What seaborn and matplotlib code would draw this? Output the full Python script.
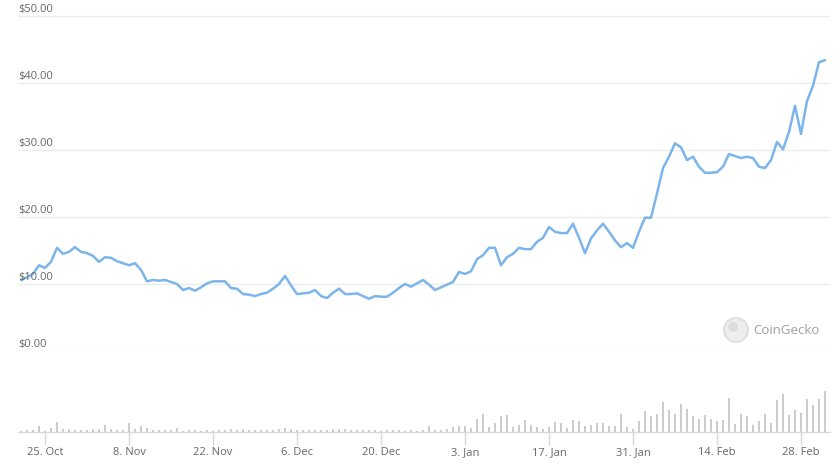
import pandas as pd
import matplotlib
matplotlib.use('Agg')
import matplotlib.pyplot as plt
import seaborn as sns

# daily prices (USD), 21 Oct 2020 -> 4 Mar 2021
start_date = '2020-10-21'
end_date = '2021-03-04'
price = [
    10.6, 11.0, 11.5, 12.8, 12.4, 13.3, 15.4, 14.5, 14.8, 15.5,
    14.8, 14.6, 14.2, 13.3, 14.0, 13.9, 13.4, 13.1, 12.8, 13.1,
    12.1, 10.4, 10.6, 10.5, 10.6, 10.3, 10.0, 9.1, 9.4, 9.0,
    9.5, 10.1, 10.4, 10.4, 10.4, 9.4, 9.3, 8.5, 8.4, 8.2,
    8.5, 8.7, 9.3, 10.0, 11.2, 9.8, 8.5, 8.6, 8.7, 9.1,
    8.2, 7.9, 8.7, 9.3, 8.5, 8.5, 8.6, 8.2, 7.8, 8.2,
    8.1, 8.1, 8.7, 9.4, 10.0, 9.6, 10.1, 10.6, 9.9, 9.1,
    9.5, 9.9, 10.3, 11.8, 11.5, 11.9, 13.7, 14.3, 15.4, 15.4,
    12.8, 14.0, 14.5, 15.4, 15.2, 15.2, 16.3, 16.9, 18.5, 17.8,
    17.6, 17.6, 19.0, 16.9, 14.6, 16.8, 18.0, 19.0, 17.8, 16.5,
    15.5, 16.1, 15.4, 17.8, 19.9, 19.9, 23.5, 27.3, 29.0, 31.0,
    30.4, 28.5, 29.0, 27.5, 26.6, 26.6, 26.7, 27.5, 29.4, 29.1,
    28.8, 29.0, 28.8, 27.5, 27.3, 28.5, 31.2, 30.1, 32.7, 36.6,
    32.4, 37.3, 39.6, 43.1, 43.4,
]

# daily volume (arbitrary units)
volume = [
    1.5, 2, 2.5, 6, 1.5, 4, 10.5, 3.5, 3, 2,
    2, 2, 3, 3.5, 7, 3, 2, 2.5, 9, 3.5,
    6, 4.5, 2.5, 2, 2, 2, 4, 1.5, 2, 2,
    1.5, 2, 1.5, 2, 2.5, 3, 2, 3.5, 2, 2,
    2.5, 2, 2.5, 3, 4, 3, 2, 2.5, 2, 2,
    2.5, 2, 3, 3.5, 3, 2.5, 2.5, 2, 2, 2,
    1.5, 2, 2, 2, 1.5, 2, 1.5, 2, 6, 2.5,
    2, 2.7, 5, 6, 6.5, 4.5, 13, 18, 5.5, 9,
    16, 17, 5, 7.5, 12, 7.5, 5.5, 2.7, 5, 10,
    9, 4.5, 12, 11.5, 6.5, 7.3, 9, 9, 6.5, 6.3,
    17.7, 5, 3.3, 10.7, 20.7, 16, 18.3, 30, 21.7, 18.3,
    28.3, 22.7, 15.7, 12.7, 17.3, 13.3, 10.7, 12.3, 34.3, 8.3,
    18.3, 16, 6.7, 10.7, 18.3, 9.3, 31.7, 37.7, 16.7, 21.7,
    19.3, 33.3, 27.3, 33.3, 40.7,
]

tick_dates = ['2020-10-25', '2020-11-08', '2020-11-22', '2020-12-06', '2020-12-20',
              '2021-01-03', '2021-01-17', '2021-01-31', '2021-02-14', '2021-02-28']
tick_labels = ['25. Oct', '8. Nov', '22. Nov', '6. Dec', '20. Dec',
               '3. Jan', '17. Jan', '31. Jan', '14. Feb', '28. Feb']
price_ticks = [0, 10, 20, 30, 40, 50]

dates = pd.date_range(start_date, end_date, freq='D')
df = pd.DataFrame({'date': dates, 'price': price, 'volume': volume})

sns.set_theme(style='white')
plt.rcParams['font.family'] = ['Open Sans', 'DejaVu Sans']

W, H = 840, 465
fig = plt.figure(figsize=(W / 100, H / 100), dpi=100)

# pixel layout
left_px, right_px = 18, 830
x0 = df['date'].iloc[0] - pd.Timedelta(hours=12)
x1 = df['date'].iloc[-1] + pd.Timedelta(hours=20)

ax = fig.add_axes([left_px / W, (H - 351) / H, (right_px - left_px) / W, (351 - 10) / H])
axv = fig.add_axes([left_px / W, (H - 432) / H, (right_px - left_px) / W, 42 / H])

sns.lineplot(data=df, x='date', y='price', ax=ax, color='#7cb5ec', linewidth=1.8)
ax.set_xlim(x0, x1)
ax.set_ylim(0, 50 * 341 / 335)
for v in price_ticks:
    ax.axhline(v, color='#ececec', linewidth=1, zorder=0)
    ax.annotate(f'${v:.2f}', xy=(0, v), xycoords=('axes fraction', 'data'),
                xytext=(0, 1), textcoords='offset pixels',
                ha='left', va='bottom', fontsize=8, color='#666666')
ax.set_xticks([])
ax.set_yticks([])
ax.set_xlabel('')
ax.set_ylabel('')
for s in ax.spines.values():
    s.set_visible(False)
ax.patch.set_alpha(0)

axv.bar(df['date'], df['volume'], width=0.35, color='#cccccc', linewidth=0)
axv.set_xlim(x0, x1)
axv.set_ylim(0, 42)
axv.set_yticks([])
axv.set_xticks(pd.to_datetime(tick_dates))
axv.set_xticklabels(tick_labels, fontsize=8, color='#666666')
axv.tick_params(axis='x', length=9, width=1, color='#d8d8d8', pad=2, bottom=True)
for s in ['top', 'left', 'right']:
    axv.spines[s].set_visible(False)
axv.spines['bottom'].set_color('#d8d8d8')
axv.spines['bottom'].set_linewidth(1)
axv.patch.set_alpha(0)

# CoinGecko watermark
fig.add_artist(plt.Circle((736, H - 330), 12, transform=None,
                          facecolor='#eeeeee', edgecolor='#e0e0e0', linewidth=1.5))
fig.add_artist(plt.Circle((733, H - 327), 5, transform=None,
                          facecolor='#dddddd', edgecolor='none'))
fig.text(753 / W, 1 - 330 / H, 'CoinGecko', fontsize=9.5, color='#a0a0a0',
         ha='left', va='center')

fig.savefig('out.png', dpi=100)
